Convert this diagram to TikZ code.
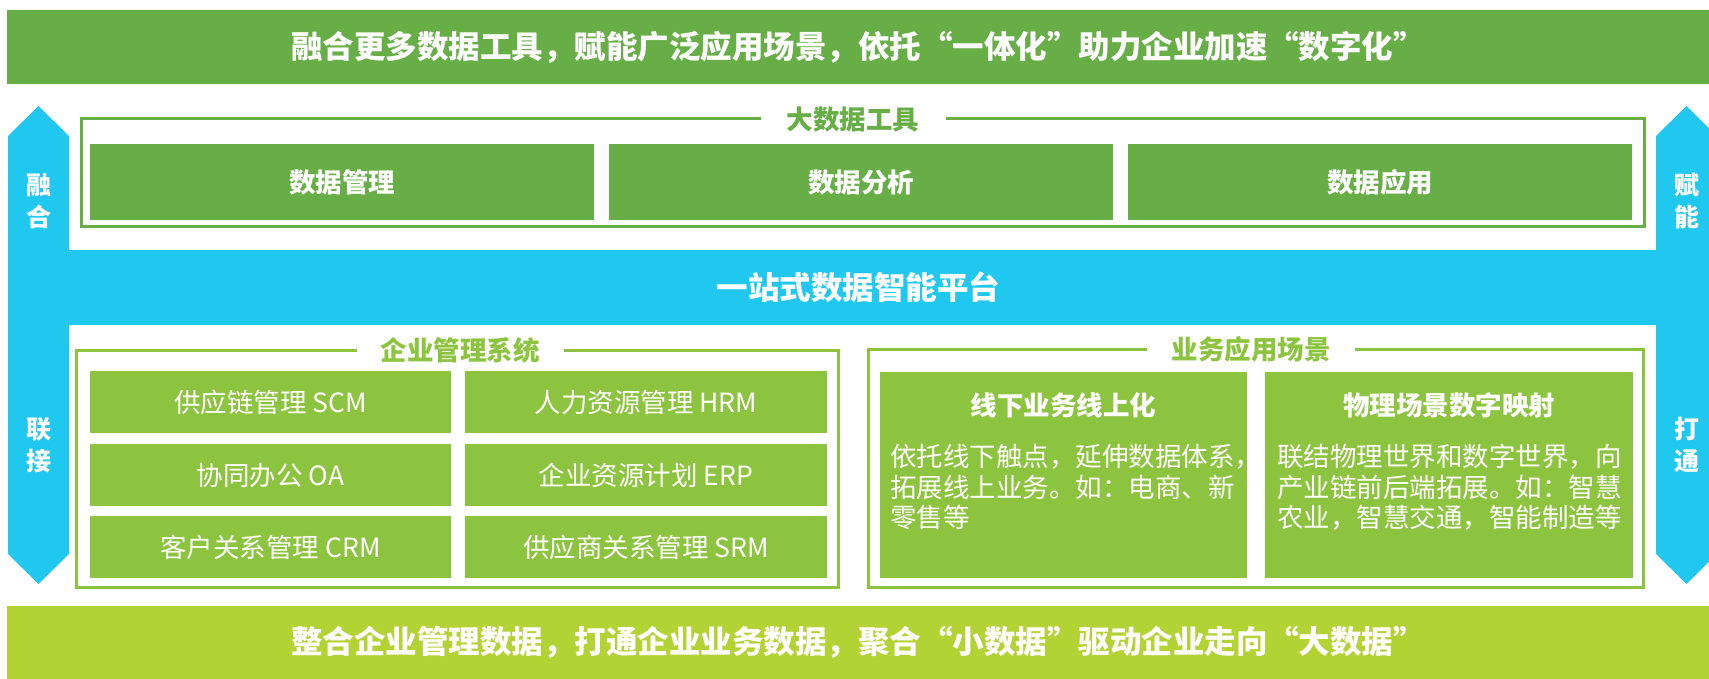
\documentclass[tikz,border=0pt]{standalone}
\usepackage{fontspec}
\setmainfont{Noto Sans CJK SC}
\usepackage{xcolor}
\usepackage{tikz}

\definecolor{toolgreen}{RGB}{103,174,70}
\definecolor{itemgreen}{RGB}{141,196,63}
\definecolor{limegreen}{RGB}{179,211,52}
\definecolor{skyblue}{RGB}{32,200,240}

\begin{document}
\begin{tikzpicture}[x=1pt,y=-1pt,
    band/.style={fill=#1, draw=none, inner sep=0pt, text=white,
        font=\bfseries\fontsize{31.5}{36}\selectfont},
    toolbox/.style={fill=toolgreen, inner sep=0pt, minimum width=504pt, minimum height=76pt,
        text=white, font=\bfseries\fontsize{26.5}{30}\selectfont},
    itembox/.style={fill=itemgreen, inner sep=0pt, minimum height=62pt,
        text=white, font=\fontsize{26.5}{30}\selectfont},
    cardbox/.style={fill=itemgreen, inner sep=0pt, minimum height=206pt},
    sectitle/.style={fill=white, inner sep=0pt, minimum height=24pt, text=#1,
        font=\bfseries\fontsize{26.5}{30}\selectfont},
    sidelabel/.style={text=white, align=center, inner sep=0pt,
        font=\bfseries\fontsize{25}{32}\selectfont}
    ]
    \useasboundingbox (0,0) rectangle (1709,679);

    % side arrows
    \fill[skyblue] (8,136) -- (38.5,106) -- (69,136) -- (69,554) -- (38.5,584) -- (8,554) -- cycle;
    \fill[skyblue] (1656,136) -- (1686.5,106) -- (1709,128.5) -- (1709,561.5) -- (1686.5,584) -- (1656,554) -- cycle;
    \node[sidelabel] (ronghe) at (38.5,201) {融\\合};
    \node[sidelabel] (lianjie) at (38.5,445) {联\\接};
    \node[sidelabel] (funeng) at (1686.5,201) {赋\\能};
    \node[sidelabel] (datong) at (1686.5,445) {打\\通};

    % banners
    \node[band=toolgreen, minimum width=1702pt, minimum height=74pt] (topband) at (858,47)
        {融合更多数据工具，赋能广泛应用场景，依托“一体化”助力企业加速“数字化”};
    \node[band=skyblue, minimum width=1701pt, minimum height=75pt] (platform) at (858.5,287.5)
        {一站式数据智能平台};
    \node[band=limegreen, minimum width=1702pt, minimum height=73pt] (bottomband) at (858,642.5)
        {整合企业管理数据，打通企业业务数据，聚合“小数据”驱动企业走向“大数据”};

    % big data tools
    \draw[toolgreen, line width=3pt] (81,119) rectangle (1644,227);%frame
    \node[sectitle=toolgreen, minimum width=185pt] (tooltitle) at (853,119) {大数据工具};
    \node[toolbox] (datamgmt) at (342,182) {数据管理};
    \node[toolbox] (dataanalysis) at (861,182) {数据分析};
    \node[toolbox] (dataapp) at (1380,182) {数据应用};

    % enterprise management systems
    \draw[itemgreen, line width=3pt] (76,350) rectangle (838,587);%frame
    \node[sectitle=itemgreen, minimum width=207pt] (systitle) at (460,350) {企业管理系统};
    \node[itembox, minimum width=361pt] (scm) at (270.5,402) {供应链管理 SCM};
    \node[itembox, minimum width=362pt] (hrm) at (646,402) {人力资源管理 HRM};
    \node[itembox, minimum width=361pt] (oa) at (270.5,475) {协同办公 OA};
    \node[itembox, minimum width=362pt] (erp) at (646,475) {企业资源计划 ERP};
    \node[itembox, minimum width=361pt] (crm) at (270.5,547) {客户关系管理 CRM};
    \node[itembox, minimum width=362pt] (srm) at (646,547) {供应商关系管理 SRM};

    % business scenarios
    \draw[itemgreen, line width=3pt] (868,349) rectangle (1643,587);%frame
    \node[sectitle=itemgreen, minimum width=208pt] (scenetitle) at (1251,349) {业务应用场景};
    \node[cardbox, minimum width=367pt] (online) at (1063.5,475) {};
    \node[cardbox, minimum width=368pt] (mapping) at (1449,475) {};
    \node[text=white, font=\bfseries\fontsize{26.5}{30}\selectfont] (onlinetitle) at (1063.5,405) {线下业务线上化};
    \node[text=white, font=\bfseries\fontsize{26.5}{30}\selectfont] (mappingtitle) at (1449,405) {物理场景数字映射};
    \node[text=white, align=left, anchor=north west, inner sep=0pt,
        font=\fontsize{26.5}{30.5}\selectfont] (onlinetext) at (890,444)
        {依托线下触点，延伸数据体系，\\拓展线上业务。如：电商、新\\零售等};
    \node[text=white, align=left, anchor=north west, inner sep=0pt,
        font=\fontsize{26.5}{30.5}\selectfont] (mappingtext) at (1277,444)
        {联结物理世界和数字世界，向\\产业链前后端拓展。如：智慧\\农业，智慧交通，智能制造等};
\end{tikzpicture}
\end{document}
